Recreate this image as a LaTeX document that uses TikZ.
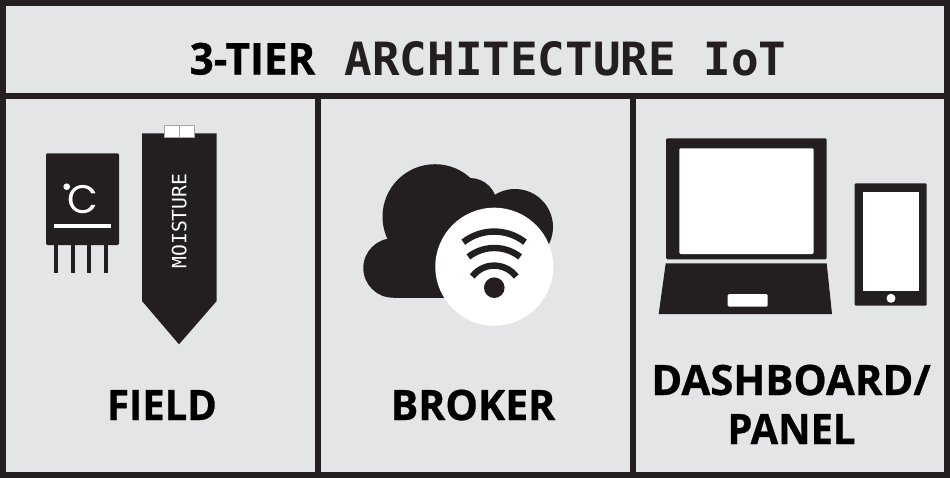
\documentclass[tikz,border=0pt]{standalone}
\usepackage{fontspec}
\setmainfont{Open Sans}[BoldFeatures={FakeBold=0.7}]
\newfontfamily\monofam{DejaVu Sans Mono}
\newfontfamily\roundfam{Poppins}
\definecolor{ink}{HTML}{231F20}
\definecolor{panel}{HTML}{E3E5E7}
\tikzset{
  solid ink/.style={fill=ink,draw=none},
  frameline/.style={draw=ink,line width=4.5bp,line cap=rect},
  wifi arc/.style={draw=ink,line width=4.8bp},
  caption/.style={text=black,font=\bfseries\fontsize{31.5}{38}\selectfont,align=center,inner sep=0pt},
}
\begin{document}
\begin{tikzpicture}[x=0.75bp,y=-0.75bp]
\useasboundingbox (0,0) rectangle (950,478);
\fill[panel] (0,0) rectangle (950,478);
% frame
\draw[frameline] (3,3) rectangle (947,475);
\coordinate (hl) at (3,95.5); \coordinate (hr) at (947,95.5);
\draw[frameline] (hl) -- (hr);
\coordinate (d1t) at (318,95.5); \coordinate (d1b) at (318,475);
\coordinate (d2t) at (632.5,95.5); \coordinate (d2b) at (632.5,475);
\draw[frameline] (d1t) -- (d1b);
\draw[frameline] (d2t) -- (d2b);
% title
\node[anchor=base west,inner sep=0pt,text=black,xscale=0.96,font=\bfseries\fontsize{33}{38}\selectfont] (t1) at (189.5,74.5) {3-TIER};
\node[anchor=base west,inner sep=0pt,text=ink,font=\monofam\bfseries\fontsize{34.5}{38}\selectfont] (t2) at (344.5,75) {ARCHITECTURE IoT};
% temperature sensor
\fill[solid ink,rounded corners=1bp] (46,153.3) rectangle (119,245);
\foreach \px in {56,73,89.3,105.7} \fill[ink] (\px-2,244) rectangle (\px+2,273);
\fill[white] (54.3,224) rectangle (111,227.5);
\fill[white] (66.7,186.7) circle (3.3);
\node[text=white,inner sep=0pt,font=\roundfam\fontsize{30}{30}\selectfont] (degc) at (82.5,200) {C};
% moisture probe
\fill[solid ink] (142,133.3) -- (216.7,133.3) -- (216.7,301) -- (179,344.3) -- (142,301) -- cycle;
\draw[draw=gray!70,fill=white,line width=0.4bp] (164.3,125.7) rectangle (194.3,137);
\draw[gray!70,line width=0.4bp] (179,125.7) -- (179,137);
\node[rotate=90,text=white,inner sep=0pt,font=\monofam\fontsize{14.8}{15}\selectfont] (moist) at (179.3,221) {MOISTURE};
% cloud
\fill[ink] (393,268) circle (29.7);
\fill[ink] (435,216.7) circle (52.5);
\fill[ink] (470,205) circle (27);
\fill[ink] (515,227) circle (38);
\fill[ink] (393,240) rectangle (515,297.7);
\fill[white] (494.3,266.7) circle (59);
\fill[ink] (494.3,287.7) circle (10.3);
\draw[wifi arc] (494.3-31,281.7-39.5) arc[start angle=-128.1,end angle=-51.9,radius=50];
\draw[wifi arc] (494.3-25.9,290-33.1) arc[start angle=-128,end angle=-52,radius=42];
\draw[wifi arc] (494.3-22,293-16.5) arc[start angle=-143,end angle=-37,radius=27.5];
% laptop
\fill[solid ink,rounded corners=1bp] (666,138.3) rectangle (826.7,259.3);
\fill[white,rounded corners=1bp] (679.3,148.3) rectangle (813.7,254);
\fill[solid ink] (665.7,263.3) -- (826.7,263.3) -- (832,314) -- (658.7,314) -- cycle;
\fill[white,rounded corners=1bp] (727.7,294) rectangle (767.7,306.7);
% tablet
\fill[solid ink,rounded corners=0.8bp] (854.7,183.3) rectangle (926.7,305.7);
\fill[white] (862.7,192.3) rectangle (918.7,291.3);
\fill[white] (891,298.3) circle (4.5);
% captions
\node[caption,anchor=base,xscale=0.955] (field) at (162,420) {FIELD};
\node[caption,anchor=base,xscale=0.98] (broker) at (473,420) {BROKER};
\node[caption,anchor=base] (dash) at (791,395) {DASHBOARD/};
\node[caption,anchor=base,xscale=0.955] (panelc) at (791.5,444) {PANEL};
\end{tikzpicture}
\end{document}
